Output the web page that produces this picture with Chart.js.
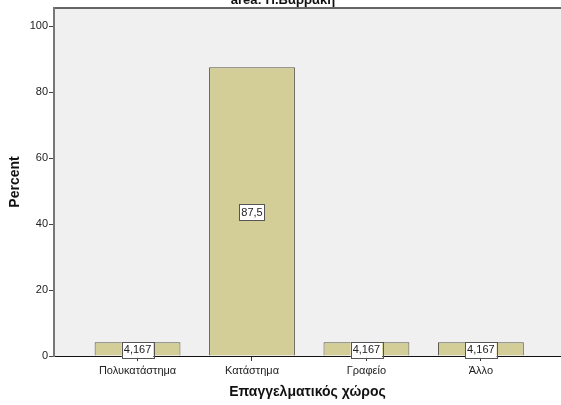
<!DOCTYPE html>
<html>
<head>
<meta charset="utf-8">
<script src="https://cdn.jsdelivr.net/npm/chart.js@4"></script>
<style>
  body { margin: 0; background: #fff; }
  canvas { display: block; }
</style>
</head>
<body>
<canvas id="chart" width="561" height="405"></canvas>
<script>
const categories = ["Πολυκατάστημα", "Κατάστημα", "Γραφείο", "Άλλο"];
const percent = [4.167, 87.5, 4.167, 4.167];
const yTicks = [0, 20, 40, 60, 80, 100];
const titleText = "area: Π.Βαρράκη";
const xTitle = "Επαγγελματικός χώρος";
const yTitle = "Percent";

const font = "'Liberation Sans', Arial, sans-serif";

// background + top border of the plot area
const plotBg = {
    id: "plotBg",
    beforeDraw(chart) {
        const { ctx, chartArea: a } = chart;
        ctx.save();
        ctx.fillStyle = "#f0f0f0";
        ctx.fillRect(a.left, a.top, a.right - a.left, a.bottom - a.top);
        ctx.strokeStyle = "#333";
        ctx.lineWidth = 1.5;
        ctx.beginPath();
        ctx.moveTo(a.left, a.top);
        ctx.lineTo(a.right, a.top);
        ctx.stroke();
        // clipped title, only bottom part visible
        ctx.fillStyle = "#111";
        ctx.font = "bold 13px " + font;
        ctx.textAlign = "center";
        ctx.textBaseline = "alphabetic";
        ctx.fillText(titleText, 283, 4);
        ctx.restore();
    }
};

// value boxes in the middle of each bar
const valueBoxes = {
    id: "valueBoxes",
    afterDatasetsDraw(chart) {
        const { ctx } = chart;
        const meta = chart.getDatasetMeta(0);
        ctx.save();
        ctx.font = "11px " + font;
        ctx.textAlign = "center";
        ctx.textBaseline = "middle";
        meta.data.forEach((bar, i) => {
            const txt = String(percent[i]).replace(".", ",");
            const w = ctx.measureText(txt).width + 4;
            const h = 16;
            const cy = (bar.y + bar.base) / 2 + 1;
            ctx.fillStyle = "#fff";
            ctx.fillRect(bar.x - w / 2, cy - h / 2, w, h);
            ctx.strokeStyle = "#555";
            ctx.lineWidth = 1;
            ctx.strokeRect(Math.round(bar.x - w / 2) + 0.5, Math.round(cy - h / 2) + 0.5, Math.round(w), h);
            ctx.fillStyle = "#222";
            ctx.fillText(txt, bar.x, cy + 0.5);
        });
        ctx.restore();
    }
};

new Chart(document.getElementById("chart"), {
    type: "bar",
    data: {
        datasets: [{
            data: categories.map((c, i) => ({ x: i, y: percent[i] })),
            backgroundColor: "#d3ce97",
            borderColor: "#55554a",
            borderWidth: 1,
            barPercentage: 0.75,
            categoryPercentage: 1
        }]
    },
    options: {
        responsive: false,
        animation: false,
        layout: { padding: { top: 8, right: 0, left: 0, bottom: 0 } },
        plugins: {
            legend: { display: false },
            tooltip: { enabled: false }
        },
        scales: {
            x: {
                type: "linear",
                offset: false,
                min: -0.73,
                max: 3.7,
                afterBuildTicks: s => { s.ticks = categories.map((c, i) => ({ value: i })); },
                afterFit: s => { s.height = 49; },
                ticks: {
                    autoSkip: false,
                    maxRotation: 0,
                    padding: 3,
                    color: "#222",
                    font: { family: font, size: 11 },
                    callback: v => categories[v]
                },
                grid: { offset: false, drawOnChartArea: false, drawTicks: true, tickLength: 5, color: "#333" },
                border: { color: "#111", width: 1 },
                title: {
                    display: true,
                    text: xTitle,
                    color: "#111",
                    font: { family: font, size: 14, weight: "bold" },
                    padding: { top: 2, bottom: 4 }
                }
            },
            y: {
                min: 0,
                max: 105.5,
                afterBuildTicks: s => { s.ticks = yTicks.map(v => ({ value: v })); },
                afterFit: s => { s.width = 54; },
                ticks: {
                    padding: 1,
                    color: "#222",
                    font: { family: font, size: 11 }
                },
                grid: { drawOnChartArea: false, drawTicks: true, tickLength: 5, color: "#444" },
                border: { color: "#777", width: 2 },
                title: {
                    display: true,
                    text: yTitle,
                    color: "#111",
                    font: { family: font, size: 14, weight: "bold" },
                    padding: { top: 7, bottom: 0 }
                }
            }
        }
    },
    plugins: [plotBg, valueBoxes]
});
</script>
</body>
</html>
